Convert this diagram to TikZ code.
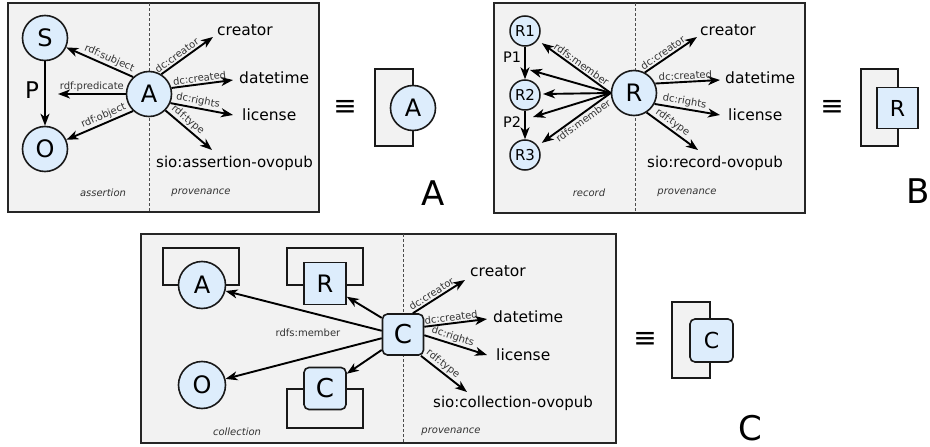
\documentclass[tikz,border=0pt]{standalone}
\usepackage{fontspec}
\setmainfont{DejaVu Sans}
\usetikzlibrary{arrows.meta}
\definecolor{panelbg}{HTML}{F2F2F2}
\definecolor{nodebg}{HTML}{DDEDFC}
\begin{document}
\begin{tikzpicture}[x=1pt,y=-1pt,
  panel/.style={draw=black!85, line width=1.5pt, fill=panelbg},
  divider/.style={draw=black!70, line width=0.9pt, dash pattern=on 3pt off 2pt},
  res/.style={circle, draw=black!90, line width=1.6pt, fill=nodebg, minimum size=45pt, inner sep=0pt, font=\fontsize{24}{24}\selectfont},
  smallres/.style={circle, draw=black!90, line width=1.5pt, fill=nodebg, minimum size=30pt, inner sep=0pt, font=\fontsize{15}{15}\selectfont},
  recnode/.style={rectangle, draw=black!90, line width=1.6pt, fill=nodebg, minimum size=42pt, inner sep=0pt, font=\fontsize{24}{24}\selectfont},
  colnode/.style={recnode, rounded corners=5pt, font=\fontsize{26}{26}\selectfont},
  arr/.style={draw=black, line width=1.9pt, -{Stealth[length=12pt,width=9pt,inset=3.5pt]}},
  elabel/.style={font=\fontsize{10}{10}\selectfont, text=black!80, inner sep=1.5pt},
  val/.style={font=\fontsize{15.5}{16}\selectfont, inner sep=0pt, anchor=west},
  sio/.style={font=\fontsize{15}{15}\selectfont, inner sep=0pt, anchor=west},
  region/.style={font=\fontsize{10}{10}\selectfont\itshape, text=black!80},
  plabel/.style={font=\fontsize{23}{23}\selectfont, inner sep=0pt},
  pslabel/.style={font=\fontsize{14.5}{15}\selectfont, inner sep=0pt},
  equiv/.style={font=\fontsize{28}{28}\selectfont, inner sep=0pt},
  biglabel/.style={font=\fontsize{34}{34}\selectfont, inner sep=0pt},
  minibox/.style={draw=black!90, line width=1.6pt, fill=panelbg},
  bracket/.style={draw=black!90, line width=1.6pt, fill=panelbg},
]
\useasboundingbox (0,0) rectangle (930,447);

%% ---------------- Panel A ----------------
\path[panel] (8,3) rectangle (319,212);
\draw[divider] (149,3) -- (149,212);
\node[res] (S) at (45,38) {S};
\node[res] (O) at (45,149) {O};
\node[res] (A) at (149,94) {A};
\node[plabel] (P) at (32,90) {P};
\coordinate (predTip) at (58,94);
\coordinate (aCreTip) at (213,37);
\coordinate (aDatTip) at (233,80);
\coordinate (aLicTip) at (233,115);
\coordinate (aTypTip) at (212,150);
\draw[arr] (S) -- (O);
\draw[arr] (A.133) -- (S) node[elabel, pos=0.4, sloped, above] {rdf:subject};
\draw[arr] (A.west) -- (predTip) node[elabel, pos=0.5, sloped, above] {rdf:predicate};
\draw[arr] (A.227) -- (O) node[elabel, pos=0.4, sloped, above] {rdf:object};
\draw[arr] (A.58) -- (aCreTip) node[elabel, pos=0.37, sloped, above] {dc:creator};
\draw[arr] (A.15) -- (aDatTip) node[elabel, pos=0.47, sloped, above] {dc:created};
\draw[arr] (A.-23) -- (aLicTip) node[elabel, pos=0.42, sloped, above] {dc:rights};
\draw[arr] (A.-45) -- (aTypTip) node[elabel, pos=0.38, sloped, above] {rdf:type};
\node[val] (aCre) at (217,30) {creator};
\node[val] (aDat) at (239,78) {datetime};
\node[val] (aLic) at (242,115) {license};
\node[sio] (aTyp) at (156,163) {sio:assertion-ovopub};
\node[region] (aReg) at (103,193) {assertion};
\node[region] (aProv) at (201,193) {provenance};

\node[equiv] (eqA) at (345,108) {≡};
\path[minibox] (375,69) rectangle (413,146);
\node[res] (miniA) at (413,108) {A};
\node[biglabel] (labA) at (433,193) {A};

%% ---------------- Panel B ----------------
\path[panel] (494,3) rectangle (805,213);
\draw[divider] (635,3) -- (635,213);
\node[smallres] (R1) at (525,31) {R1};
\node[smallres] (R2) at (525,95) {R2};
\node[smallres] (R3) at (525,155) {R3};
\node[res] (R) at (634,93) {R};
\node[pslabel] (P1) at (512,57) {P1};
\node[pslabel] (P2) at (512,122) {P2};
\draw[arr] (R1) -- (R2);
\draw[arr] (R2) -- (R3);
\coordinate (m1) at (530,70);
\coordinate (m2) at (543,94);
\coordinate (m3) at (533,117);
\draw[arr, shorten >=5pt] (R.west) -- (R1) node[elabel, pos=0.45, sloped, above] {rdfs:member};
\draw[arr] (R.west) -- (m1);
\draw[arr] (R.west) -- (m2);
\draw[arr] (R.west) -- (m3);
\draw[arr, shorten >=5pt] (R.west) -- (R3) node[elabel, pos=0.43, sloped, below] {rdfs:member};
\coordinate (bCreTip) at (697,37);
\coordinate (bDatTip) at (720,80);
\coordinate (bLicTip) at (720,115);
\coordinate (bTypTip) at (698,150);
\draw[arr] (R.62) -- (bCreTip) node[elabel, pos=0.41, sloped, above] {dc:creator};
\draw[arr] (R.24) -- (bDatTip) node[elabel, pos=0.47, sloped, above] {dc:created};
\draw[arr] (R.-28) -- (bLicTip) node[elabel, pos=0.44, sloped, above] {dc:rights};
\draw[arr] (R.-57) -- (bTypTip) node[elabel, pos=0.42, sloped, above] {rdf:type};
\node[val] (bCre) at (700,30) {creator};
\node[val] (bDat) at (725,78) {datetime};
\node[val] (bLic) at (728,115) {license};
\node[sio] (bTyp) at (647,163) {sio:record-ovopub};
\node[region] (bReg) at (589,193) {record};
\node[region] (bProv) at (687,193) {provenance};

\node[equiv] (eqB) at (832,108) {≡};
\path[minibox] (861,69) rectangle (898,146);
\node[recnode, minimum size=41pt, font=\fontsize{22}{22}\selectfont] (miniR) at (897.5,108) {R};
\node[biglabel] (labB) at (918,191) {B};

%% ---------------- Panel C ----------------
\path[panel] (141,234) rectangle (616,443);
\draw[divider] (403,234) -- (403,443);
\path[bracket] (163,248) rectangle (239,285);
\path[bracket] (287,248) rectangle (363,285);
\path[bracket] (287,389) rectangle (363,428);
\node[res, minimum size=47pt] (Ac) at (202,285) {A};
\node[res, minimum size=47pt] (Oc) at (202,385) {O};
\node[recnode] (Rc) at (325,283.5) {R};
\node[colnode] (Cs) at (325,388.5) {C};
\node[colnode, minimum size=41pt] (C) at (403,334.5) {C};
\draw[arr] (C.170) -- (Ac);
\draw[arr] (C.142) -- (Rc);
\draw[arr] (C.190) -- (Oc);
\draw[arr] (C.216) -- (Cs);
\node[elabel] (memC) at (308,333) {rdfs:member};
\coordinate (cCreTip) at (465,280);
\coordinate (cDatTip) at (487,319);
\coordinate (cLicTip) at (487,355);
\coordinate (cTypTip) at (467,392);
\draw[arr] (C.65) -- (cCreTip) node[elabel, pos=0.42, sloped, above] {dc:creator};
\draw[arr] (C.20) -- (cDatTip) node[elabel, pos=0.44, sloped, above] {dc:created};
\draw[arr] (C.-2) -- (cLicTip) node[elabel, pos=0.42, sloped, above] {dc:rights};
\draw[arr] (C.-50) -- (cTypTip) node[elabel, pos=0.38, sloped, above] {rdf:type};
\node[val] (cCre) at (470,271) {creator};
\node[val] (cDat) at (493,317) {datetime};
\node[val] (cLic) at (496,355) {license};
\node[sio] (cTyp) at (433,403) {sio:collection-ovopub};
\node[region] (cReg) at (237,432) {collection};
\node[region] (cProv) at (451,432) {provenance};

\node[equiv] (eqC) at (645,340) {≡};
\path[minibox] (672,302) rectangle (710,378);
\node[colnode, minimum size=43pt, font=\fontsize{22}{22}\selectfont] (miniC) at (711.5,340.5) {C};
\node[biglabel] (labC) at (750,428) {C};
\end{tikzpicture}
\end{document}
